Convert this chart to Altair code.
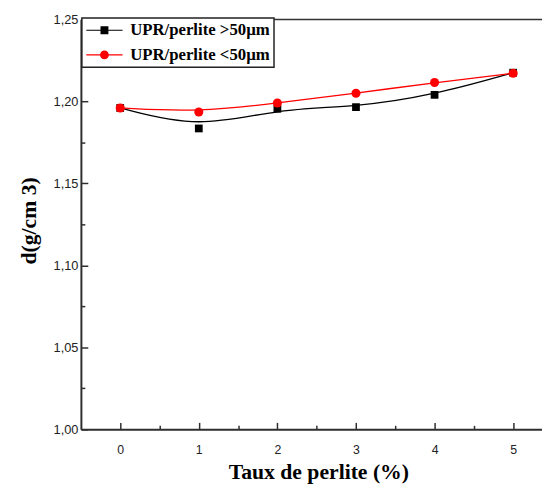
import altair as alt
import pandas as pd

# ---- data ----
perlite = [0, 1, 2, 3, 4, 5]
d_gt50 = [1.196, 1.1835, 1.1955, 1.1965, 1.204, 1.2175]
d_lt50 = [1.196, 1.1935, 1.199, 1.205, 1.2115, 1.2172]
series = ["UPR/perlite >50µm", "UPR/perlite <50µm"]
colors = ["#000000", "#ff0000"]
x_tick_values = [0, 0.5, 1, 1.5, 2, 2.5, 3, 3.5, 4, 4.5, 5]
y_tick_values = [1.0, 1.025, 1.05, 1.075, 1.1, 1.125, 1.15, 1.175, 1.2, 1.225, 1.25]
top_value = [1.25]

rows = []
for s, vals in zip(series, [d_gt50, d_lt50]):
    for xv, yv in zip(perlite, vals):
        rows.append({"taux": xv, "d": yv, "series": s})
df = pd.DataFrame(rows)

# legend symbols: line + marker, as custom paths
leg_square = "M-1,-0.07H3.6V0.07H-1Z M0.8,-0.5H1.8V0.5H0.8Z"
leg_circle = ("M-1,-0.07H3.6V0.07H-1Z M1.86,0A0.56,0.56 0 1,1 0.74,0"
              "A0.56,0.56 0 1,1 1.86,0Z")
legend_fill_expr = f"datum.value == '{series[0]}' ? '{colors[0]}' : '{colors[1]}'"

AX = "#2e2e2e"
X_MAJOR = "datum.value % 1 == 0"
Y_MAJOR = "abs(datum.value*20 - round(datum.value*20)) < 0.01"

x_enc = alt.X(
    "taux:Q",
    scale=alt.Scale(domain=[-0.5, 5.367], nice=False, zero=False),
    axis=alt.Axis(
        values=x_tick_values,
        labelExpr=f"{X_MAJOR} ? format(datum.value, 'd') : ''",
        tickSize={"condition": {"test": X_MAJOR, "value": -7}, "value": -4},
        tickColor=AX, tickWidth=1.5, ticks=True, domainColor=AX, domainWidth=2,
        labelFont="Liberation Sans", labelFontSize=12.5, labelColor="#222",
        labelPadding=22, labelOverlap=False, labelFlush=False, grid=False,
        title="Taux de perlite (%)", titleFont="Liberation Serif",
        titleFontSize=22, titleFontWeight="bold", titleColor="#000",
        titleX=241, titleY=50, titleBaseline="alphabetic", titleAlign="center",
    ),
)
y_enc = alt.Y(
    "d:Q",
    scale=alt.Scale(domain=[1.0, 1.25], nice=False, zero=False),
    axis=alt.Axis(
        values=y_tick_values,
        labelExpr=f"{Y_MAJOR} ? replace(format(datum.value, '.2f'), '.', ',') : ''",
        tickSize={"condition": {"test": Y_MAJOR, "value": -7}, "value": -4},
        tickColor=AX, tickWidth=1.5, ticks=True, domainColor=AX, domainWidth=2,
        labelFont="Liberation Sans", labelFontSize=13, labelColor="#222",
        labelPadding=10, labelOverlap=False, labelFlush=False, grid=False,
        title="d(g/cm 3)", titleFont="Liberation Serif", titleFontSize=22,
        titleFontWeight="bold", titleColor="#000", titleAngle=270,
        titleX=-46, titleY=204, titleBaseline="alphabetic", titleAlign="center",
    ),
)

color_nolegend = alt.Color("series:N", scale=alt.Scale(domain=series, range=colors), legend=None)

base = alt.Chart(df)

lines = base.mark_line(interpolate="basis", strokeWidth=1.3).encode(
    x=x_enc, y=y_enc, color=color_nolegend
)

points = base.mark_point(filled=True, opacity=1).encode(
    x=x_enc, y=y_enc, color=color_nolegend,
    shape=alt.Shape("series:N", scale=alt.Scale(domain=series, range=["square", "circle"]), legend=None),
    size=alt.Size("series:N", scale=alt.Scale(domain=series, range=[62, 85]), legend=None),
)

legend_layer = base.transform_filter("false").mark_point(filled=True, opacity=1, size=256).encode(
    x=x_enc, y=y_enc, color=color_nolegend,
    shape=alt.Shape(
        "series:N", scale=alt.Scale(domain=series, range=[leg_square, leg_circle]),
        legend=alt.Legend(
            title=None, orient="none", legendX=1, legendY=-1.5,
            strokeColor="#222", padding=4, fillColor="#ffffff",
            labelFont="Liberation Serif", labelFontWeight="bold", labelFontSize=17,
            labelColor="#000", labelOffset=28, labelLimit=400,
            symbolSize=256, rowPadding=7, symbolStrokeWidth=0, symbolOpacity=1,
            symbolFillColor=alt.ExprRef(expr=legend_fill_expr),
        ),
    ),
)

top_rule = alt.Chart(pd.DataFrame({"y": top_value})).mark_rule(
    color="#333", strokeWidth=1.5
).encode(y=alt.Y("y:Q", scale=alt.Scale(domain=[1.0, 1.25], nice=False, zero=False)))

chart = alt.layer(lines, points, legend_layer, top_rule).resolve_scale(
    shape="independent", size="independent"
).properties(
    width=468, height=416,
    padding={"left": 74, "top": 8, "right": 0, "bottom": 57},
    autosize=alt.AutoSizeParams(type="none"),
    background="#ffffff",
).configure_view(stroke=None).configure_legend(strokeWidth=1.5)

chart.save("out.html", embed_options={"renderer": "svg", "actions": False})
